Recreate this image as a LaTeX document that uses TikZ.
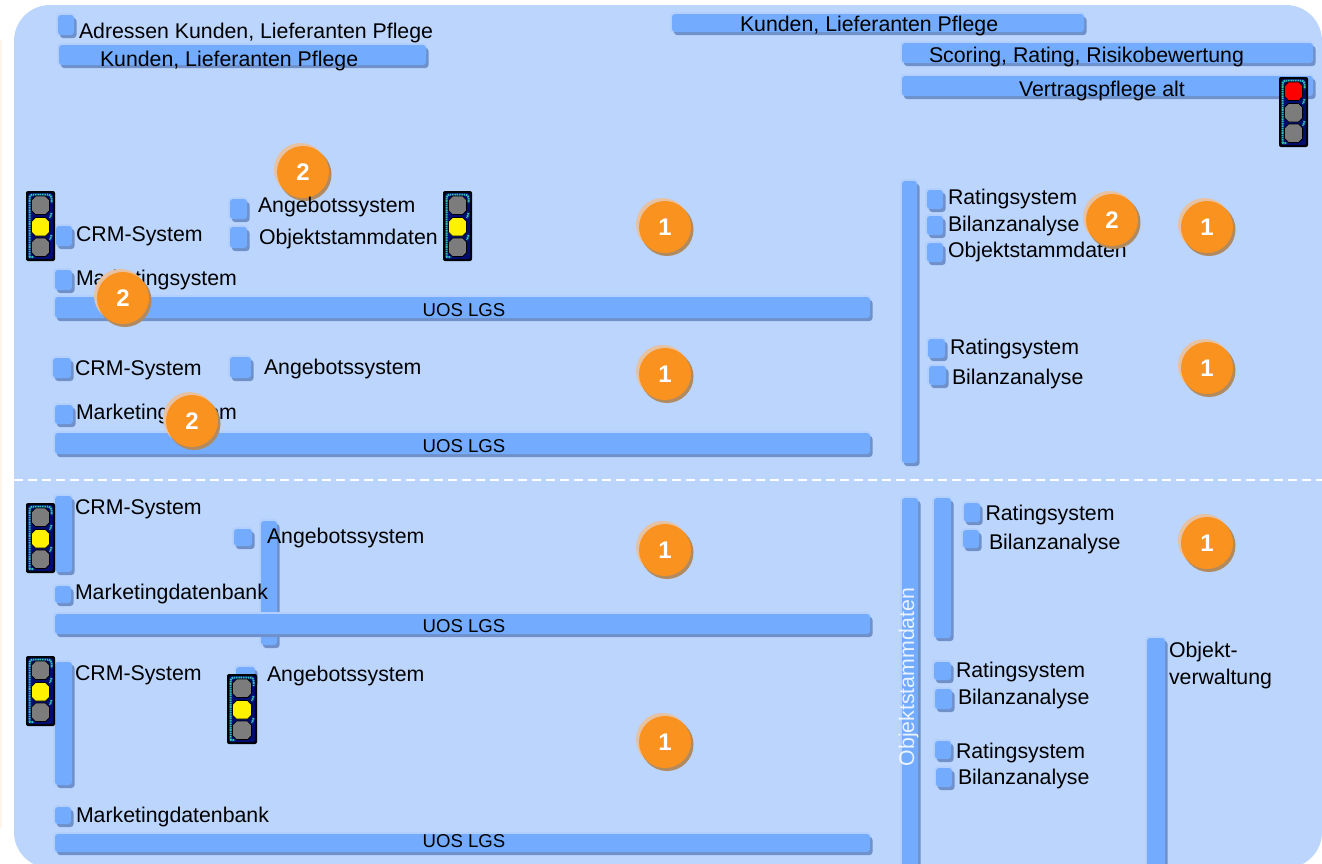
\documentclass[tikz,border=0pt]{standalone}
\usepackage{fontspec}
\setmainfont{Liberation Sans}
\usetikzlibrary{calc}
\definecolor{panelc}{HTML}{BBD5FD}
\definecolor{barc}{HTML}{73ACFE}
\definecolor{barshadow}{HTML}{6F90C9}
\definecolor{barglow}{HTML}{B2CFFD}
\definecolor{orangec}{HTML}{F9921F}
\definecolor{orangeshadow}{HTML}{B28A60}
\definecolor{orangehalo}{HTML}{E6C2A2}
\definecolor{lampgrey}{HTML}{7C7C7C}
\definecolor{tealc}{HTML}{35C0B4}
\definecolor{tlblue}{HTML}{000C70}
\tikzset{
  x=1pt,y=-1pt,
  barbody/.style={rectangle,rounded corners=3pt,fill=barc,inner sep=0pt,outer sep=0pt},
  lbl/.style={anchor=base west,inner sep=0pt,outer sep=0pt,font=\fontsize{21.3}{21.3}\selectfont,text=black},
  lblc/.style={anchor=base,inner sep=0pt,outer sep=0pt,font=\fontsize{18.6}{18.6}\selectfont,text=black},
  badge/.style={circle,fill=orangec,minimum size=52pt,inner sep=0pt,outer sep=0pt,text=white,font=\bfseries\fontsize{24}{24}\selectfont},
  lamp/.style={fill=#1,draw=black,line width=.7pt,line join=round},
  tealdots/.style={tealc,line width=2pt,dash pattern=on 1.6pt off .7pt},
}
% name, x1, y1, x2, y2
\newcommand{\bx}[5]{%
  \fill[barglow,rounded corners=4pt] (#2-2,#3-2) rectangle (#4+1,#5+1);
  \fill[barshadow,rounded corners=3pt] (#2+2,#3+3) rectangle (#4+2.5,#5+3);
  \pgfmathsetmacro\bw{#4-#2}\pgfmathsetmacro\bh{#5-#3}
  \node[barbody,minimum width=\bw pt,minimum height=\bh pt] (#1) at ({(#2+#4)/2},{(#3+#5)/2}) {};
}
% name, x, y, digit
\newcommand{\bd}[4]{%
  \fill[orangehalo] (#2-2.5,#3-2.5) circle[radius=26.5];
  \fill[orangeshadow] (#2+2,#3+2.5) circle[radius=26.5];
  \node[badge] (#1) at (#2,#3) {#4};
}
% octagonal lamp: x1, y1, x2, y2, colour
\newcommand{\lampat}[5]{%
  \draw[lamp=#5] (#1+4,#2) -- (#3-4,#2) -- (#3,#2+4) -- (#3,#4-4) -- (#3-4,#4) -- (#1+4,#4) -- (#1,#4-4) -- (#1,#2+4) -- cycle;
}
% name, x, y, width, lamp colours
\newcommand{\tl}[7]{%
  \begin{scope}[shift={(#2,#3)}]
    \node[rectangle,rounded corners=2pt,fill=black,minimum width=#4 pt,minimum height=70pt,inner sep=0pt,outer sep=0pt,anchor=north west] (#1) at (0,0) {};
    \fill[tlblue,rounded corners=1.5pt] (2,2) rectangle (#4-2,68);
    \draw[tealdots,rounded corners=3pt] (3.5,66) -- (3.5,3.5) -- (#4-3.5,3.5) -- (#4-3.5,12);
    \draw[tealdots] (#4-3.5,22)--(#4-5,27) (#4-3.5,44)--(#4-5,49) (3,66)--(8,66);
    \lampat{5.5}{5}{#4-5.5}{23.5}{#5}
    \lampat{5.5}{26.5}{#4-5.5}{45}{#6}
    \lampat{5.5}{47}{#4-5.5}{65.5}{#7}
  \end{scope}
}
\begin{document}
\begin{tikzpicture}
\useasboundingbox (0,0) rectangle (1322,863);
\fill[white] (0,0) rectangle (1322,863);
\fill[orange!8] (0,40) rectangle (1.5,828);
\begin{scope}
\clip (0,0) rectangle (1322,863);
\fill[panelc,rounded corners=36pt] (14,5) rectangle (1322,868);
\end{scope}
\draw[white,dashed,dash pattern=on 9pt off 5pt,line width=1.4pt] (14,480) -- (1322,480);

% upper band
\bx{sqAddr}{58}{15}{74}{35}
\bx{barKundenL}{59}{45}{426}{65}
\bx{barKundenT}{672}{14}{1084}{32}
\bx{barScoring}{902}{43}{1313}{63}
\bx{barVertrag}{902}{76}{1313}{96}
\bx{sqCrmA}{56}{226}{72}{246}
\bx{sqAngA}{230}{199}{247}{219}
\bx{sqObjA}{230}{227}{247}{248}
\bx{sqMktA}{55}{270}{72}{290}
\bx{barUosA}{55}{297}{870}{318}
\bx{sqCrmB}{53}{358}{71}{378}
\bx{sqAngB}{230}{357}{251}{378}
\bx{sqMktB}{55}{405}{73}{424}
\bx{barUosB}{55}{433}{870}{454}
\bx{barRightA}{902}{181}{917}{463}
\bx{sqRateA}{927}{190}{943}{209}
\bx{sqBilA}{927}{216}{943}{235}
\bx{sqObjR}{927}{243}{943}{262}
\bx{sqRateB}{928}{339}{945}{358}
\bx{sqBilB}{929}{366}{946}{385}

% lower band
\bx{barCrmC}{55}{496}{72}{572}
\bx{sqAngC}{234}{529}{252}{546}
\bx{barAngC}{261}{521}{277}{645}
\bx{sqMktC}{55}{586}{71}{603}
\bx{barUosC}{55}{614}{870}{634}
\bx{barCrmD}{55}{662}{72}{785}
\bx{sqAngD}{236}{667}{255}{684}
\bx{sqMktD}{55}{807}{71}{824}
\bx{barUosD}{55}{834}{870}{852}
\bx{barObj}{902}{498}{918}{870}
\bx{barRightC}{934}{498}{951}{638}
\bx{sqRateC}{964}{503}{980}{522}
\bx{sqBilC}{963}{530}{979}{548}
\bx{sqRateD}{934}{662}{951}{680}
\bx{sqBilD}{935}{689}{952}{709}
\bx{sqRateE}{935}{741}{951}{759}
\bx{sqBilE}{936}{768}{952}{787}
\bx{barObjV}{1147}{638}{1165}{870}

% labels
\node[lbl] (t1) at (79,38) {Adressen Kunden, Lieferanten Pflege};
\node[lbl] (t2) at (100,66) {Kunden, Lieferanten Pflege};
\node[lbl] (t3) at (740,31.5) {Kunden, Lieferanten Pflege};
\node[lbl] (t4) at (929,62) {Scoring, Rating, Risikobewertung};
\node[lbl] (t5) at (1019,96) {Vertragspflege alt};
\node[lbl] (t6) at (76,241) {CRM-System};
\node[lbl] (t8) at (259,244) {Objektstammdaten};
\node[lbl] (t9) at (76,285) {Marketingsystem};
\node[lblc] (u1) at (464,316.5) {UOS LGS};
\node[lbl] (t10) at (75,375) {CRM-System};
\node[lbl] (t11) at (264,374) {Angebotssystem};
\node[lbl] (t12) at (76,419) {Marketingsystem};
\node[lblc] (u2) at (464,452.5) {UOS LGS};
\node[lbl] (t13) at (948,204.5) {Ratingsystem};
\node[lbl] (t14) at (948,231) {Bilanzanalyse};
\node[lbl] (t15) at (948,257.5) {Objektstammdaten};
\node[lbl] (t16) at (950,354) {Ratingsystem};
\node[lbl] (t17) at (952,384) {Bilanzanalyse};
\node[lbl] (t18) at (75,514) {CRM-System};
\node[lbl] (t19) at (267,543) {Angebotssystem};
\node[lbl] (t20) at (75,599) {Marketingdatenbank};
\node[lblc] (u3) at (464,632) {UOS LGS};
\node[lbl] (t21) at (75,680) {CRM-System};
\node[lbl] (t22) at (267,681) {Angebotssystem};
\node[lbl] (t23) at (76,822) {Marketingdatenbank};
\node[lblc] (u4) at (464,847) {UOS LGS};
\node[lbl] (t24) at (985.5,520) {Ratingsystem};
\node[lbl] (t25) at (989,549) {Bilanzanalyse};
\node[lbl] (t26) at (956,677.5) {Ratingsystem};
\node[lbl] (t27) at (958,704.5) {Bilanzanalyse};
\node[lbl] (t28) at (956,758) {Ratingsystem};
\node[lbl] (t29) at (958,784) {Bilanzanalyse};
\node[lbl] (t30) at (1169,657) {Objekt-};
\node[lbl] (t31) at (1169,684) {verwaltung};
\node[lbl,anchor=base,rotate=90,text=white,text opacity=.85] (t32) at (914,677) {Objektstammdaten};

% traffic lights
\tl{tlA}{26}{191}{29}{lampgrey}{yellow}{lampgrey}
\tl{tlB}{443}{191}{29}{lampgrey}{yellow}{lampgrey}
\tl{tlC}{1279}{77}{29}{red}{lampgrey}{lampgrey}
\tl{tlD}{26}{503}{29}{lampgrey}{yellow}{lampgrey}
\tl{tlE}{26}{656}{29}{lampgrey}{yellow}{lampgrey}
\tl{tlF}{227}{674}{30}{lampgrey}{yellow}{lampgrey}

% badges
\bd{b1}{303}{172}{2}
\bd{b2}{123}{298}{2}
\bd{b3}{192}{421}{2}
\bd{b4}{1112}{220}{2}
\bd{b5}{665}{227}{1}
\bd{b6}{665}{374}{1}
\bd{b7}{665}{550}{1}
\bd{b8}{665}{742}{1}
\bd{b9}{1207}{227}{1}
\bd{b10}{1207}{368}{1}
\bd{b11}{1207}{543}{1}
\node[lbl] (t7) at (258,212) {Angebotssystem};
\end{tikzpicture}
\end{document}
